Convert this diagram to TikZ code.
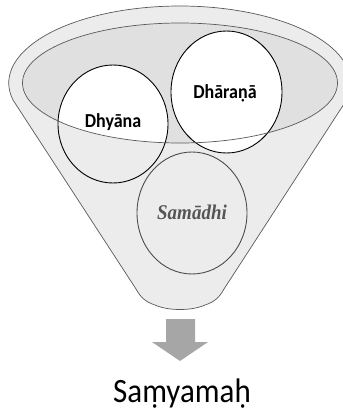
\documentclass[tikz,border=0pt]{standalone}
\usepackage{fontspec}
\setmainfont{Carlito}
\newfontfamily\serifbi{Liberation Serif}
\begin{document}
\begin{tikzpicture}[x=1pt,y=-1pt,
  rimline/.style={draw=black!65,line width=0.7pt},
  circline/.style={draw=black,line width=0.9pt},
  lbl/.style={font=\bfseries\fontsize{18}{20}\selectfont,anchor=base,inner sep=0pt},
]
\useasboundingbox (0,0) rectangle (343,413);
\definecolor{rim}{HTML}{ECECEC}
\definecolor{body}{HTML}{E8E8E8}
\definecolor{inner}{HTML}{E0E0E0}
\definecolor{arrowgray}{HTML}{A6A6A6}
\definecolor{txtgray}{HTML}{555555}
% funnel
\path[fill=rim,rimline] (13,100) arc[start angle=192.75,end angle=-12.75,x radius=171pt,y radius=77pt]
  -- (224,289) .. controls (219,298) and (214,302) .. (205,305)
  .. controls (192,311) and (168,311) .. (155,305)
  .. controls (146,302) and (141,298) .. (136,289) -- cycle;
% inner ellipse
\path[fill=inner] (180,83) ellipse[x radius=157.5pt,y radius=60pt];
% Dharana
\path[fill=white] (226.5,92) ellipse[x radius=55.5pt,y radius=61pt];
% Dhyana
\begin{scope}
\clip (180,83) ellipse[x radius=157.5pt,y radius=60pt];
\path[fill=white] (113,124) ellipse[x radius=55pt,y radius=59pt];
\end{scope}
\path[circline] (226.5,92) ellipse[x radius=55.5pt,y radius=61pt];
\path[circline] (113,124) ellipse[x radius=55pt,y radius=59pt];
\path[rimline] (180,83) ellipse[x radius=157.5pt,y radius=60pt];
% Samadhi
\path[draw=black!70,line width=0.9pt] (192,213) ellipse[x radius=55pt,y radius=61pt];
% texts
\node[lbl] (dhyana) at (113,127) {\scalebox{1}[1.1]{Dhyāna}};
\node[lbl] (dharana) at (225,98) {\scalebox{1}[1.1]{Dhāraṇā}};
\node[anchor=base,inner sep=0pt,text=txtgray,font=\serifbi\bfseries\itshape\fontsize{19}{21}\selectfont] (samadhi) at (192,219) {\scalebox{1}[1.1]{Samādhi}};
% arrow
\path[fill=arrowgray] (166,319) -- (195,319) -- (195,342) -- (208,342) -- (180,361) -- (152,342) -- (166,342) -- cycle;
\node[anchor=base,inner sep=0pt,font=\fontsize{31}{34}\selectfont] (samyamah) at (182,402) {\scalebox{1}[1.1]{Saṃyamaḥ}};
\end{tikzpicture}
\end{document}
